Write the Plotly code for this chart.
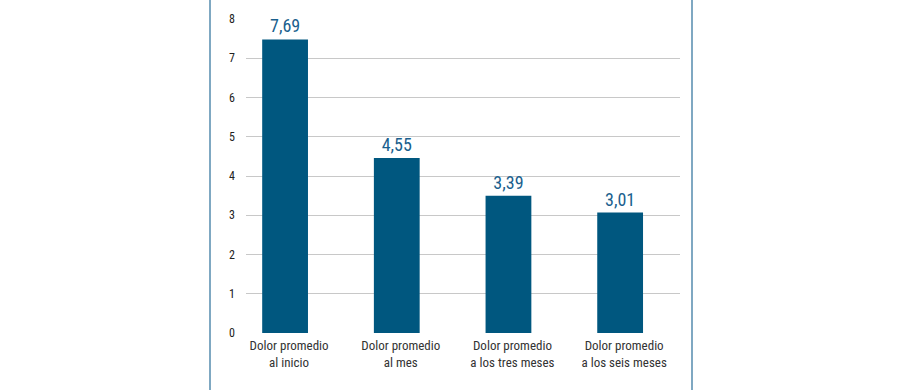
import plotly.graph_objects as go

categories = ["Dolor promedio<br>al inicio", "Dolor promedio<br>al mes",
              "Dolor promedio<br>a los tres meses", "Dolor promedio<br>a los seis meses"]
bar_heights = [7.48, 4.46, 3.50, 3.07]
value_labels = ["7,69", "4,55", "3,39", "3,01"]
y_ticks = [0, 1, 2, 3, 4, 5, 6, 7, 8]

positions = list(range(len(categories)))
font_narrow = "Liberation Sans Narrow, Arial Narrow, Roboto Condensed, sans-serif"

fig = go.Figure(go.Bar(
    x=positions, y=bar_heights, width=0.41,
    marker=dict(color="#00577f", line=dict(width=0)),
    text=value_labels, textposition="outside", cliponaxis=False,
    textfont=dict(family=font_narrow, size=18, color="#1a5f8e"),
))

fig.update_layout(
    width=900, height=390,
    margin=dict(l=246, r=220, t=16, b=57),
    paper_bgcolor="white", plot_bgcolor="white",
    showlegend=False,
    xaxis=dict(range=[-0.35, 3.536], tickmode="array", tickvals=positions,
               ticktext=categories, showgrid=False, zeroline=False,
               showline=False, ticks="",
               ticklabelstandoff=3, ticklabelshift=4,
               tickfont=dict(family=font_narrow, size=13, color="#333333")),
    yaxis=dict(range=[0, 8], tickmode="array", tickvals=y_ticks,
               showgrid=True, gridcolor="#c8c8c8", gridwidth=1,
               zeroline=False, showline=False, ticks="",
               ticklabelstandoff=10,
               tickfont=dict(family=font_narrow, size=12, color="#222222")),
    shapes=[
        dict(type="line", xref="paper", yref="paper",
             x0=-36/434, x1=-36/434, y0=-1, y1=2,
             line=dict(color="#7fa8c2", width=2)),
        dict(type="line", xref="paper", yref="paper",
             x0=446/434, x1=446/434, y0=-1, y1=2,
             line=dict(color="#7fa8c2", width=2)),
    ],
)

fig.write_html("out.html", config={"displayModeBar": False},
               post_script="document.body.style.margin='0';document.body.style.overflow='hidden';")
